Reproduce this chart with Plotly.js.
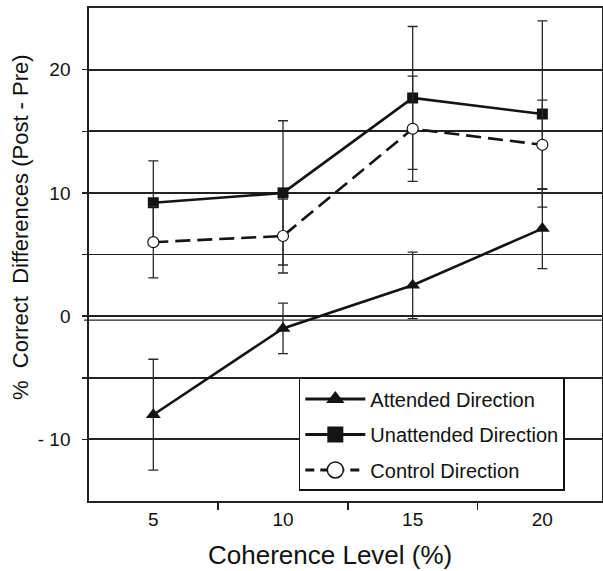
<!DOCTYPE html>
<html>
<head>
<meta charset="utf-8">
<script src="https://cdn.plot.ly/plotly-3.0.1.min.js"></script>
<style>html,body{margin:0;padding:0;background:#fff;}#chart{width:603px;height:571px;}</style>
</head>
<body>
<div id="chart"></div>
<script>
// Data
const coherenceLevels = [5, 10, 15, 20];
const attended = [-8.0, -1.0, 2.5, 7.1];
const attendedErr = [4.5, 2.05, 2.7, 3.25];
const unattended = [9.2, 10.0, 17.7, 16.4];
const unattendedErr = [3.4, 5.85, 5.8, 7.55];
const control = [6.0, 6.5, 15.2, 13.9];
const controlErr = [2.9, 3.0, 4.27, 3.62];

const seriesNames = ['Attended Direction', 'Unattended Direction', 'Control Direction'];
const xTickVals = [5, 10, 15, 20];
const xTickText = ['5', '10', '15', '20'];
const xMinorTicks = [7.5, 12.5, 17.5];
const yTickVals = [-10, -5, 0, 5, 10, 15, 20];
const yTickText = ['- 10', '', '0', '', '10', '', '20'];
const xTitle = 'Coherence Level (%)';
const yTitle = '%\u00a0\u00a0Correct\u00a0\u00a0Differences (Post - Pre)';

const FONT = '"Liberation Sans", Arial, Helvetica, sans-serif';
const INK = '#141414';

function errBar(arr) {
  return {type: 'data', array: arr, visible: true, color: '#2a2a2a', thickness: 1.3, width: 5};
}

const traces = [
  {x: coherenceLevels, y: attended, error_y: errBar(attendedErr), mode: 'lines+markers',
   line: {color: INK, width: 2.6}, marker: {symbol: 'triangle-up', size: 13, color: INK},
   showlegend: false},
  {x: coherenceLevels, y: unattended, error_y: errBar(unattendedErr), mode: 'lines+markers',
   line: {color: INK, width: 2.6}, marker: {symbol: 'square', size: 11, color: INK},
   showlegend: false},
  {x: coherenceLevels, y: control, error_y: errBar(controlErr), mode: 'lines+markers',
   line: {color: INK, width: 2.6, dash: '15px,7px'},
   marker: {symbol: 'circle', size: 11, color: '#fff', line: {color: INK, width: 1.2}},
   showlegend: false},
  // legend entries
  {x: [null], y: [null], name: seriesNames[0], legendgroup: 'a', mode: 'lines+markers',
   line: {color: INK, width: 3}, marker: {symbol: 'triangle-up', size: 16, color: INK}},
  {x: [null], y: [null], name: seriesNames[1], legendgroup: 'b', mode: 'lines+markers',
   line: {color: INK, width: 3}, marker: {symbol: 'square', size: 16, color: INK}},
  {x: [null], y: [null], name: seriesNames[2], legendgroup: 'c', mode: 'lines+markers',
   line: {color: INK, width: 3, dash: '9px,6px'},
   marker: {symbol: 'circle', size: 16, color: '#fff', line: {color: INK, width: 1.5}}}
];

const layout = {
  width: 603, height: 571,
  margin: {l: 89, r: 1, t: 8, b: 70},
  paper_bgcolor: '#fff', plot_bgcolor: '#fff',
  font: {family: FONT, color: '#111', size: 19},
  xaxis: {
    range: [2.52, 22.3], tickmode: 'array', tickvals: xTickVals, ticktext: xTickText,
    ticks: '', showgrid: false, zeroline: false,
    showline: true, linecolor: '#222', linewidth: 1.7, mirror: true,
    tickfont: {size: 19, family: FONT, color: '#111'},
    minor: {tickmode: 'array', tickvals: xMinorTicks, ticks: 'outside', ticklen: 7,
            tickwidth: 1.5, tickcolor: '#222', showgrid: false}
  },
  yaxis: {
    range: [-15, 25], tickmode: 'array', tickvals: yTickVals, ticktext: yTickText,
    ticks: 'outside', ticklen: 5, tickwidth: 1.5, tickcolor: '#222',
    showgrid: true, gridcolor: '#222', gridwidth: 1.8, zeroline: false,
    showline: true, linecolor: '#222', linewidth: 1.7, mirror: true,
    ticklabelstandoff: 8,
    tickfont: {size: 19, family: FONT, color: '#111'}
  },
  shapes: [
    {type: 'line', xref: 'paper', x0: -0.0097, x1: 1, yref: 'y', y0: -0.32, y1: -0.32,
     line: {color: '#222', width: 1.3}, layer: 'below'}
  ],
  legend: {
    x: 0.409, y: 0.2495, xanchor: 'left', yanchor: 'top',
    bgcolor: '#fff', bordercolor: '#111', borderwidth: 1.5,
    font: {size: 20, family: FONT, color: '#111'},
    itemwidth: 60, traceorder: 'grouped', tracegroupgap: 6.5
  },
  annotations: [
    {text: xTitle, xref: 'paper', yref: 'paper', x: 0.4698, y: -0.1095,
     xanchor: 'center', yanchor: 'middle', showarrow: false,
     font: {size: 26, family: FONT, color: '#111'}},
    {text: yTitle, xref: 'paper', yref: 'paper', x: -0.1326, y: 0.5558,
     xanchor: 'center', yanchor: 'middle', showarrow: false, textangle: -90,
     font: {size: 22, family: FONT, color: '#111'}}
  ]
};

Plotly.newPlot('chart', traces, layout, {displayModeBar: false, staticPlot: true});
</script>
</body>
</html>
